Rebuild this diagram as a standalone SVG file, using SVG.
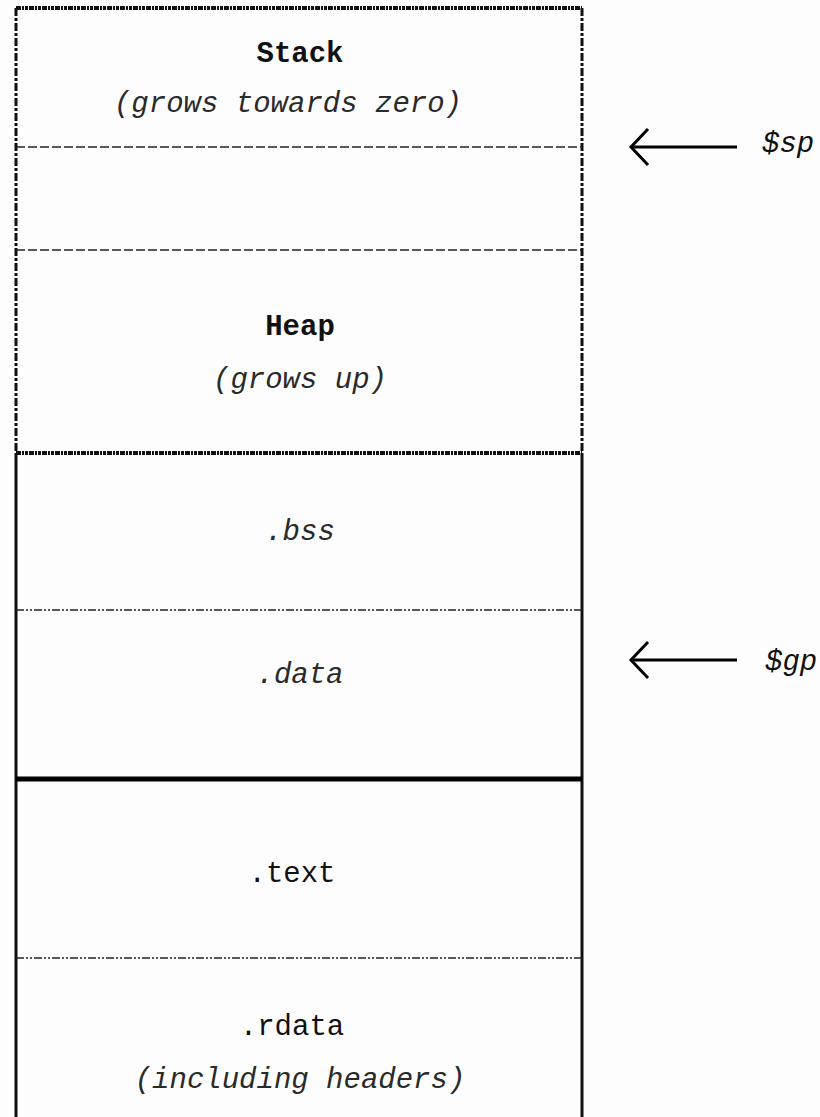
<svg xmlns="http://www.w3.org/2000/svg" width="820" height="1117" viewBox="0 0 820 1117">
<style>
text{font-family:"Liberation Mono","Courier New",monospace;font-size:29px;fill:#111;text-anchor:middle}
.b{font-weight:bold}
.i{font-style:italic;fill:#2a2a2a}
.lbl{text-anchor:start;font-style:italic}
.dashB{fill:none;stroke:#111;stroke-width:3;stroke-dasharray:8 2 3 2}
.dashT{fill:none;stroke:#111;stroke-width:4;stroke-dasharray:5 1 2 1 3 1}
.thin{fill:none;stroke:#222;stroke-width:1.4;stroke-dasharray:9 3}
.dd{fill:none;stroke:#222;stroke-width:1.4;stroke-dasharray:8 2 2 2 2 2}
.solid{fill:none;stroke:#111;stroke-width:3}
.thick{fill:none;stroke:#000;stroke-width:5}
.arr{fill:none;stroke:#000;stroke-width:3}
</style>
<defs>
<marker id="head" markerUnits="userSpaceOnUse" viewBox="-20 -20 23 40" refX="0" refY="0" markerWidth="23" markerHeight="40" orient="auto">
<path d="M-17,-18 L0,0 L-17,18" fill="none" stroke="#000" stroke-width="3"/>
</marker>
</defs>
<rect width="820" height="1117" fill="#fdfdfd"/>
<g id="frame">
<line class="dashT" x1="16" y1="8" x2="582" y2="8"/>
<line class="dashB" x1="16" y1="8" x2="16" y2="453"/>
<line class="dashB" x1="582" y1="8" x2="582" y2="453"/>
<line class="dashT" x1="16" y1="453" x2="582" y2="453"/>
<line class="solid" x1="16" y1="453" x2="16" y2="1117"/>
<line class="solid" x1="582" y1="453" x2="582" y2="1117"/>
</g>
<g id="stack">
<text class="b" x="300" y="62">Stack</text>
<text class="i" x="288" y="112">(grows towards zero)</text>
<line class="thin" x1="16" y1="147" x2="582" y2="147"/>
</g>
<g id="free">
<line class="thin" x1="16" y1="250" x2="582" y2="250"/>
</g>
<g id="heap">
<text class="b" x="300" y="335">Heap</text>
<text class="i" x="300" y="388">(grows up)</text>
</g>
<g id="bss">
<text class="i" x="300" y="540">.bss</text>
<line class="dd" x1="16" y1="610" x2="582" y2="610"/>
</g>
<g id="data">
<text class="i" x="300" y="683">.data</text>
<line class="thick" x1="16" y1="779" x2="582" y2="779"/>
</g>
<g id="textsec">
<text x="292" y="882">.text</text>
<line class="dd" x1="16" y1="958" x2="582" y2="958"/>
</g>
<g id="rdata">
<text x="292" y="1035">.rdata</text>
<text class="i" x="300" y="1088">(including headers)</text>
</g>
<g id="sp">
<text class="lbl" x="762" y="152">$sp</text>
</g>
<g id="gp">
<text class="lbl" x="765" y="670">$gp</text>
</g>
<g id="connectors">
<line class="arr" x1="737" y1="147" x2="631" y2="147" marker-end="url(#head)"/>
<line class="arr" x1="737" y1="660" x2="631" y2="660" marker-end="url(#head)"/>
</g>
</svg>
